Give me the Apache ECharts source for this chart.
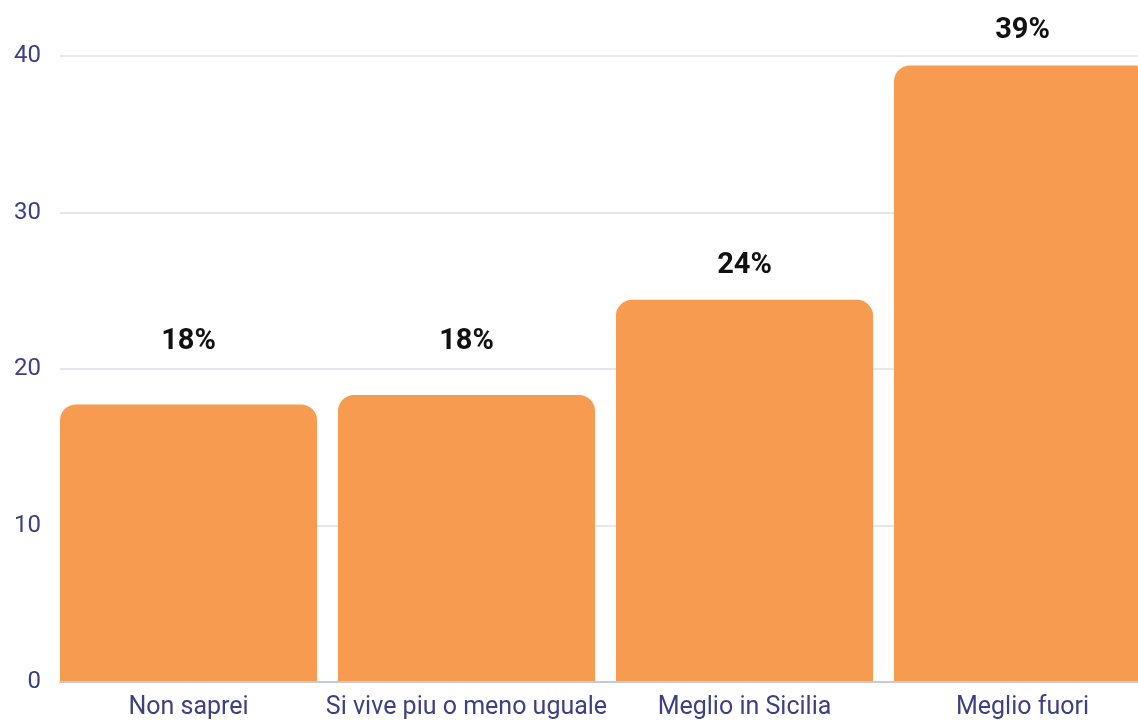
<!DOCTYPE html>
<html>
<head>
<meta charset="utf-8">
<script src="https://cdn.jsdelivr.net/npm/echarts@6/dist/echarts.min.js"></script>
<style>
html,body{margin:0;padding:0;background:#fff;overflow:hidden;width:1138px;height:720px;}
#chart{width:1162px;height:720px;}
</style>
</head>
<body>
<div id="chart"></div>
<script>
const categories = ['Non saprei', 'Si vive piu o meno uguale', 'Meglio in Sicilia', 'Meglio fuori'];
const values = [17.7, 18.3, 24.4, 39.4];
const yTicks = [0, 10, 20, 30, 40];

// per-bar label gap (style)
const labelGaps = [48, 39, 20, 20];

const chart = echarts.init(document.getElementById('chart'), null, {renderer: 'canvas'});
const FONT = 'Roboto';
const option = {
  backgroundColor: '#ffffff',
  animation: false,
  grid: [
    {left: 60, right: 24, top: 56, bottom: 38},
    {left: 49.5, right: 0.5, top: 56, bottom: 38}
  ],
  xAxis: [
    {gridIndex: 0, type: 'value', min: 0, max: 1, show: true,
     axisLine: {show: true, onZero: false, lineStyle: {color: '#c5c8de', width: 2}},
     axisTick: {show: false}, axisLabel: {show: false}, splitLine: {show: false}},
    {gridIndex: 1, type: 'category', data: categories,
     axisLine: {show: false}, axisTick: {show: false},
     axisLabel: {interval: 0, color: '#3d4183', fontFamily: FONT, fontSize: 25, margin: 14}}
  ],
  yAxis: [
    {gridIndex: 0, type: 'value', min: yTicks[0], max: yTicks[yTicks.length - 1], interval: 10,
     axisLine: {show: false}, axisTick: {show: false},
     axisLabel: {color: '#3d4183', fontFamily: FONT, fontSize: 24, margin: 19},
     splitLine: {show: true, lineStyle: {color: '#dcdde6', width: 1.5}}},
    {gridIndex: 1, type: 'value', min: yTicks[0], max: yTicks[yTicks.length - 1], interval: 10, show: false}
  ],
  series: [{
    type: 'bar',
    xAxisIndex: 1, yAxisIndex: 1,
    barCategoryGap: '7.55%',
    data: values.map((v, i) => ({
      value: v,
      label: {distance: labelGaps[i]}
    })),
    itemStyle: {color: '#f69b4f', borderRadius: [16, 16, 0, 0]},
    label: {
      show: true, position: 'top',
      formatter: p => Math.round(p.value) + '%',
      color: '#111111', fontFamily: FONT, fontWeight: 'bold', fontSize: 29
    }
  }]
};
chart.setOption(option);
</script>
</body>
</html>
